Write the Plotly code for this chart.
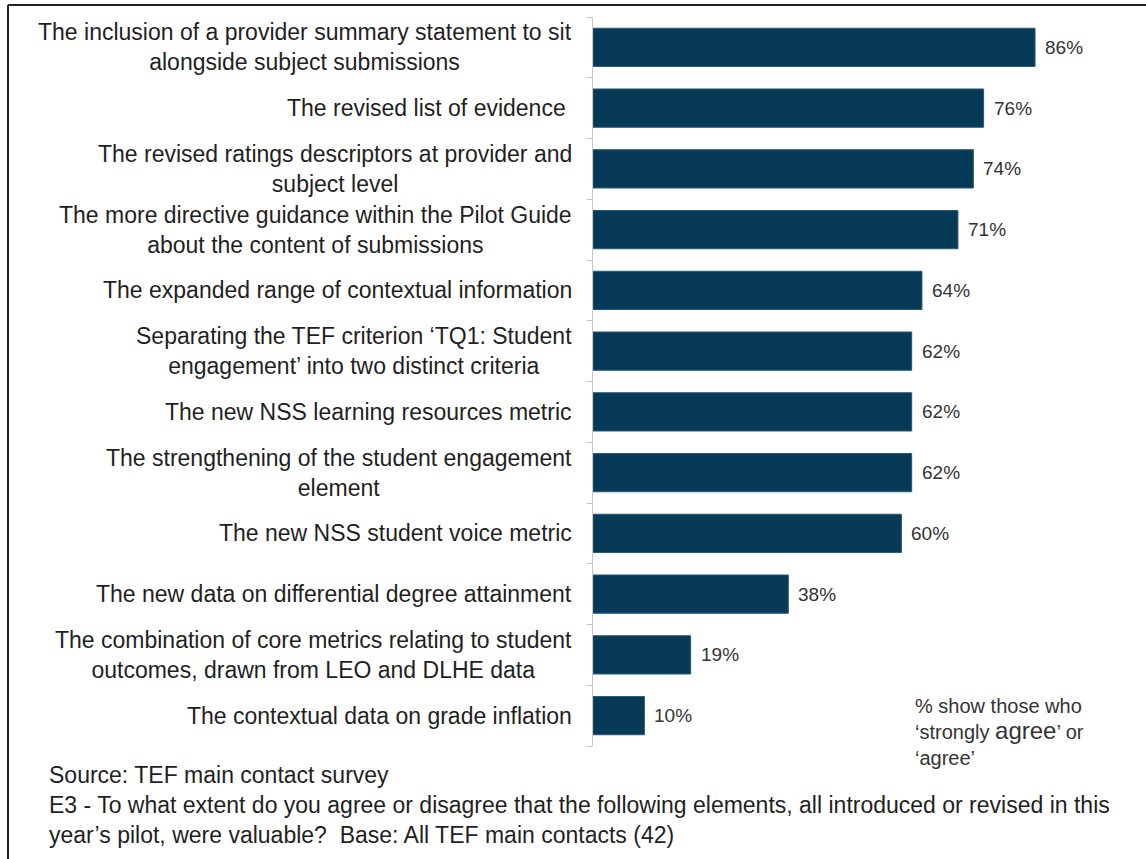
import plotly.graph_objects as go

# Survey items (top to bottom) and share who agree / strongly agree
items = [
    "The inclusion of a provider summary statement to sit<br>alongside subject submissions",
    "The revised list of evidence ",
    "The revised ratings descriptors at provider and<br>subject level",
    "The more directive guidance within the Pilot Guide<br>about the content of submissions",
    "The expanded range of contextual information",
    "Separating the TEF criterion ‘TQ1: Student<br>engagement’ into two distinct criteria",
    "The new NSS learning resources metric",
    "The strengthening of the student engagement<br>element",
    "The new NSS student voice metric",
    "The new data on differential degree attainment",
    "The combination of core metrics relating to student<br>outcomes, drawn from LEO and DLHE data",
    "The contextual data on grade inflation",
]
agree_pct = [86, 76, 74, 71, 64, 62, 62, 62, 60, 38, 19, 10]

footer_lines = [
    "Source: TEF main contact survey",
    "E3 - To what extent do you agree or disagree that the following elements, all introduced or revised in this",
    "year’s pilot, were valuable?  Base: All TEF main contacts (42)",
]

W, H = 1146, 859
ML, MR, MT, MB = 593, 39, 17, 113
PW, PH = W - ML - MR, H - MT - MB


def px(x):
    return (x - ML) / PW


def py(y):
    return 1 - (y - MT) / PH


BAR = "#063a57"
TXT = "#1f1f1f"
FONT = "Liberation Sans, Arial, sans-serif"

fig = go.Figure(
    go.Bar(
        x=agree_pct,
        y=items,
        orientation="h",
        marker=dict(color=BAR, line=dict(color="#2a5a78", width=1)),
        width=0.63,
        hoverinfo="x+y",
    )
)

fig.update_xaxes(range=[0, 100], visible=False)
fig.update_yaxes(
    categoryorder="array",
    categoryarray=items[::-1],
    showticklabels=False,
    showline=True,
    linecolor="#c8c8c8",
    linewidth=1,
    ticks="outside",
    tickson="boundaries",
    ticklen=5,
    tickcolor="#c8c8c8",
    showgrid=False,
    zeroline=False,
)

annotations = []

# category labels: block right-aligned to the axis, lines centred within it
for it in items:
    annotations.append(
        dict(
            x=0, xref="paper", y=it, yref="y",
            text=it, showarrow=False, xanchor="right", yanchor="middle",
            align="center", xshift=-19,
            font=dict(size=23, color=TXT, family=FONT),
        )
    )

# value labels just past the bar ends
for it, v in zip(items, agree_pct):
    annotations.append(
        dict(
            x=v, xref="x", y=it, yref="y",
            text=f"{v}%", showarrow=False, xanchor="left", yanchor="middle",
            xshift=8, font=dict(size=19, color="#333333", family=FONT),
        )
    )

for line, yy in zip(footer_lines, [775, 805, 835]):
    annotations.append(
        dict(
            x=px(47), xref="paper", y=py(yy), yref="paper",
            text=line, showarrow=False, xanchor="left", yanchor="middle",
            font=dict(size=23, color=TXT, family=FONT),
        )
    )

annotations.append(
    dict(
        x=px(913), xref="paper", y=py(732), yref="paper",
        text="% show those who<br>‘strongly <span style='font-size:24px'>agree</span>’ or<br>‘agree’",
        showarrow=False, xanchor="left", yanchor="middle", align="left",
        font=dict(size=20, color="#333333", family=FONT),
    )
)

# frame lines along the top and left edge
shapes = [
    dict(type="line", xref="paper", yref="paper", x0=px(8), x1=px(W + 5),
         y0=py(5), y1=py(5), line=dict(color="#222222", width=2)),
    dict(type="line", xref="paper", yref="paper", x0=px(8), x1=px(8),
         y0=py(5), y1=py(H + 5), line=dict(color="#222222", width=2)),
]

fig.update_layout(
    width=W, height=H,
    margin=dict(l=ML, r=MR, t=MT, b=MB),
    paper_bgcolor="white", plot_bgcolor="white",
    showlegend=False,
    annotations=annotations,
    shapes=shapes,
    font=dict(family=FONT),
)

fig.write_html("out.html")
